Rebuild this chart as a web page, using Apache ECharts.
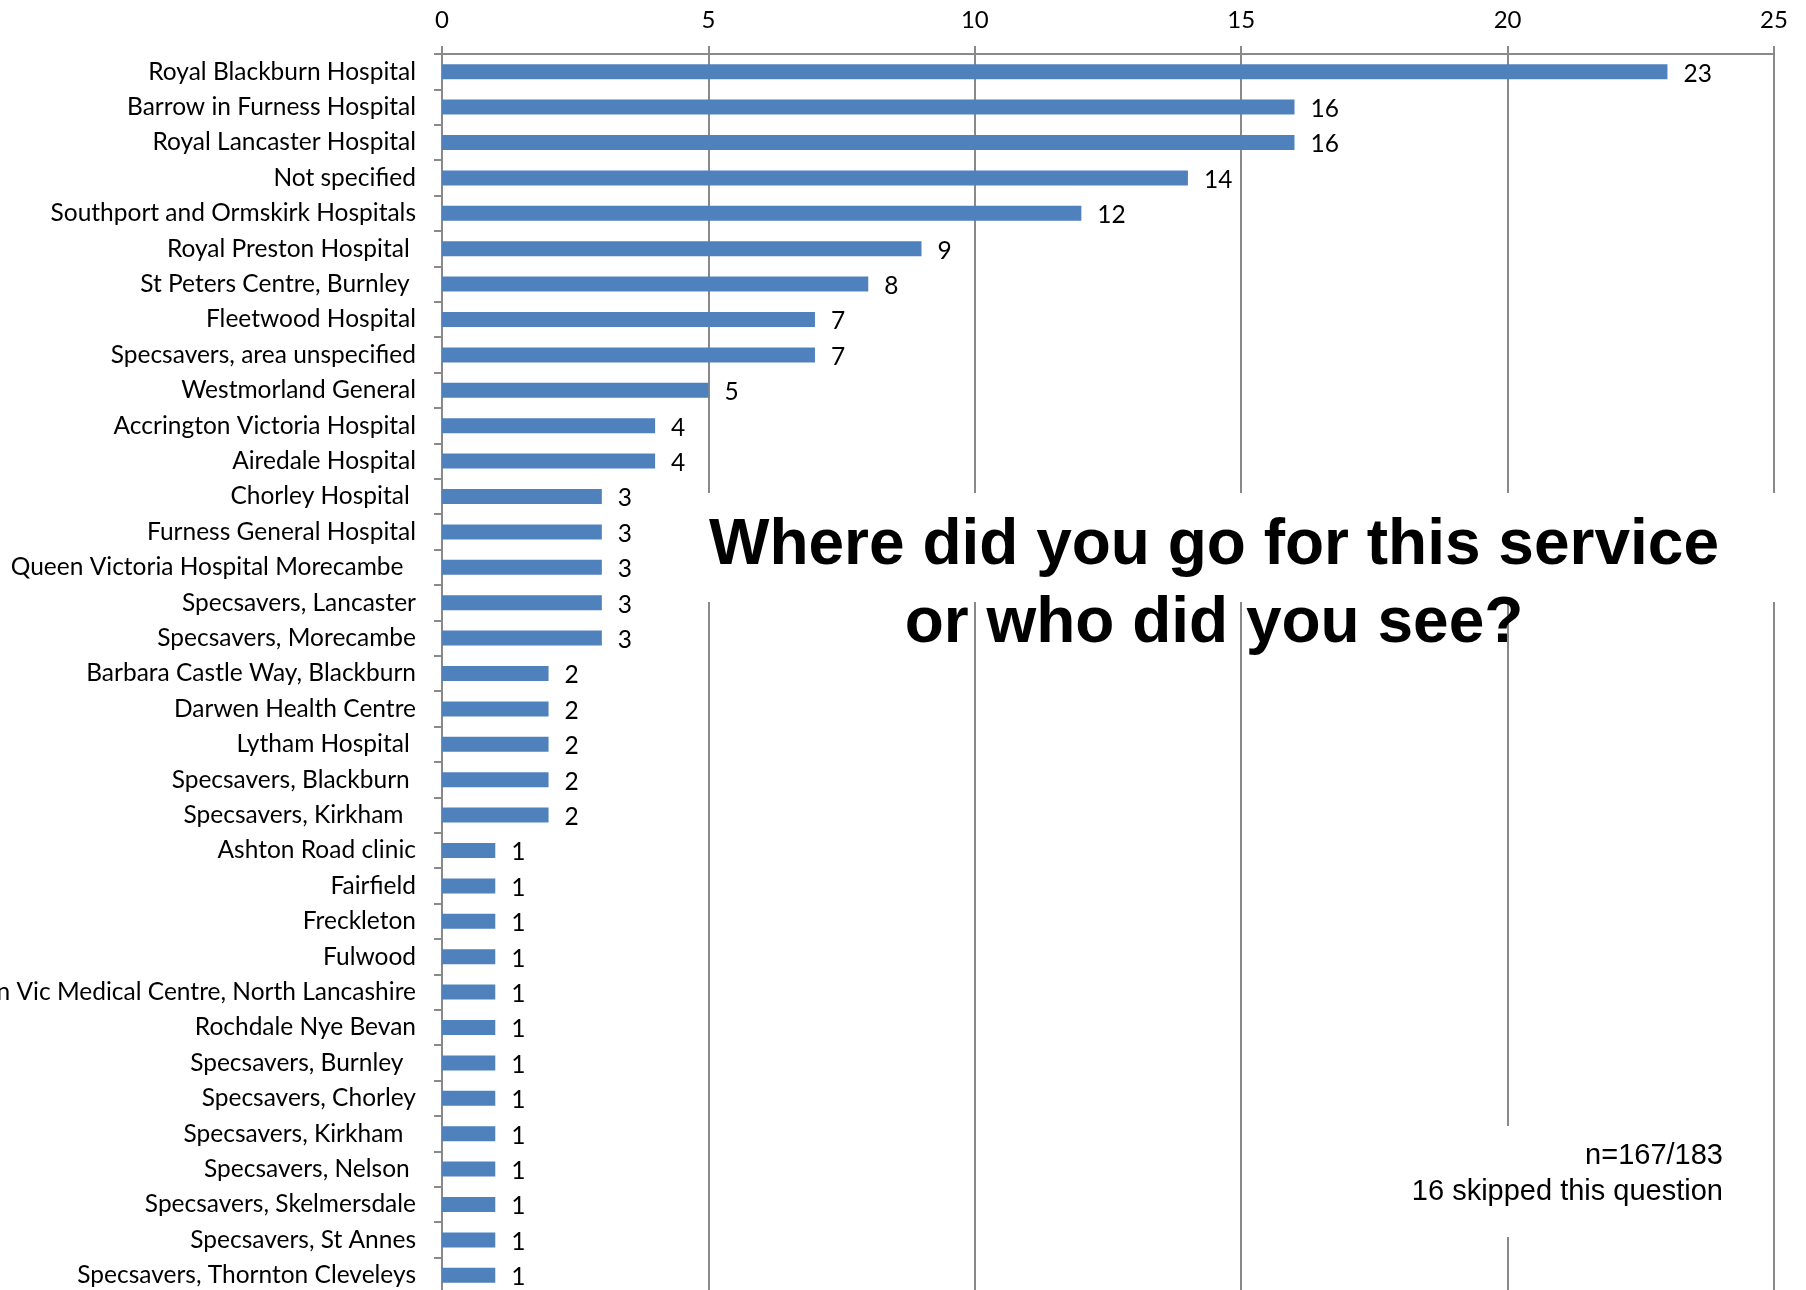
<!DOCTYPE html>
<html>
<head>
<meta charset="utf-8">
<title>Where did you go for this service</title>
<script src="https://cdn.jsdelivr.net/npm/echarts@6/dist/echarts.min.js"></script>
<style>
  html, body { margin: 0; padding: 0; background: #fff; }
  #chart { width: 1806px; height: 1290px; }
</style>
</head>
<body>
<div id="chart"></div>
<script>
// 医院 / 地点（顺序同原图，从上到下）
const places = [
  'Royal Blackburn Hospital',
  'Barrow in Furness Hospital',
  'Royal Lancaster Hospital',
  'Not specified',
  'Southport and Ormskirk Hospitals',
  'Royal Preston Hospital ',
  'St Peters Centre, Burnley ',
  'Fleetwood Hospital',
  'Specsavers, area unspecified',
  'Westmorland General',
  'Accrington Victoria Hospital',
  'Airedale Hospital',
  'Chorley Hospital ',
  'Furness General Hospital',
  'Queen Victoria Hospital Morecambe  ',
  'Specsavers, Lancaster',
  'Specsavers, Morecambe',
  'Barbara Castle Way, Blackburn',
  'Darwen Health Centre',
  'Lytham Hospital ',
  'Specsavers, Blackburn ',
  'Specsavers, Kirkham  ',
  'Ashton Road clinic',
  'Fairfield',
  'Freckleton',
  'Fulwood',
  'Queen Vic Medical Centre, North Lancashire',
  'Rochdale Nye Bevan',
  'Specsavers, Burnley  ',
  'Specsavers, Chorley',
  'Specsavers, Kirkham  ',
  'Specsavers, Nelson ',
  'Specsavers, Skelmersdale',
  'Specsavers, St Annes',
  'Specsavers, Thornton Cleveleys'
]

const counts = [23, 16, 16, 14, 12, 9, 8, 7, 7, 5, 4, 4, 3, 3, 3, 3, 3, 2, 2, 2, 2, 2, 1, 1, 1, 1, 1, 1, 1, 1, 1, 1, 1, 1, 1]

const titleLines = ['Where did you go for this service', 'or who did you see?']
const noteLines = ['n=167/183', '16 skipped this question']

const gridColor = '#898989'
const labelFont = 'Lato, "Open Sans", sans-serif'

const chart = echarts.init(document.getElementById('chart'))

const option = {
  animation: false,
  backgroundColor: '#fff',
  grid: {
    left: 442,
    top: 54,
    width: 1332,
    height: 1239,
    containLabel: false,
    outerBoundsMode: 'none'
  },
  xAxis: {
    type: 'value',
    position: 'top',
    min: 0,
    max: 25,
    interval: 5,
    axisLine: { show: true, lineStyle: { color: gridColor, width: 2 } },
    axisTick: { show: true, length: 8, lineStyle: { color: gridColor, width: 2 } },
    axisLabel: { margin: 22, fontSize: 24, color: '#000', fontFamily: labelFont },
    splitLine: { show: true, lineStyle: { color: gridColor, width: 2 } }
  },
  yAxis: {
    type: 'category',
    inverse: true,
    data: places,
    axisLine: { show: true, lineStyle: { color: gridColor, width: 2 } },
    axisTick: { show: true, length: 8, lineStyle: { color: gridColor, width: 2 } },
    axisLabel: { interval: 0, margin: 26, fontSize: 24.5, color: '#000', fontFamily: labelFont },
    splitLine: { show: false }
  },
  series: [
    {
      type: 'bar',
      data: counts,
      barWidth: 15,
      itemStyle: { color: '#4F81BD' },
      label: {
        show: true,
        position: 'right',
        distance: 16,
        offset: [0, 2],
        fontSize: 24.5,
        color: '#000',
        fontFamily: labelFont
      }
    }
  ],
  // 标题和注释（白底遮住网格线）
  graphic: [
    {
      type: 'rect',
      z: 10,
      shape: { x: 692, y: 493, width: 1083, height: 109 },
      style: { fill: '#fff' }
    },
    {
      type: 'text',
      z: 11,
      x: 1214,
      y: 546,
      style: {
        text: titleLines[0],
        font: 'bold 64px "Liberation Sans", Arial, sans-serif',
        fill: '#000',
        textAlign: 'center',
        textVerticalAlign: 'middle'
      }
    },
    {
      type: 'text',
      z: 11,
      x: 1214,
      y: 624,
      style: {
        text: titleLines[1],
        font: 'bold 64px "Liberation Sans", Arial, sans-serif',
        fill: '#000',
        textAlign: 'center',
        textVerticalAlign: 'middle'
      }
    },
    {
      type: 'rect',
      z: 10,
      shape: { x: 1400, y: 1126, width: 345, height: 111 },
      style: { fill: '#fff' }
    },
    {
      type: 'text',
      z: 11,
      x: 1723,
      y: 1156,
      style: {
        text: noteLines[0],
        font: '29px "Liberation Sans", Arial, sans-serif',
        fill: '#000',
        textAlign: 'right',
        textVerticalAlign: 'middle'
      }
    },
    {
      type: 'text',
      z: 11,
      x: 1723,
      y: 1192,
      style: {
        text: noteLines[1],
        font: '29px "Liberation Sans", Arial, sans-serif',
        fill: '#000',
        textAlign: 'right',
        textVerticalAlign: 'middle'
      }
    }
  ]
}

chart.setOption(option)
</script>
</body>
</html>
